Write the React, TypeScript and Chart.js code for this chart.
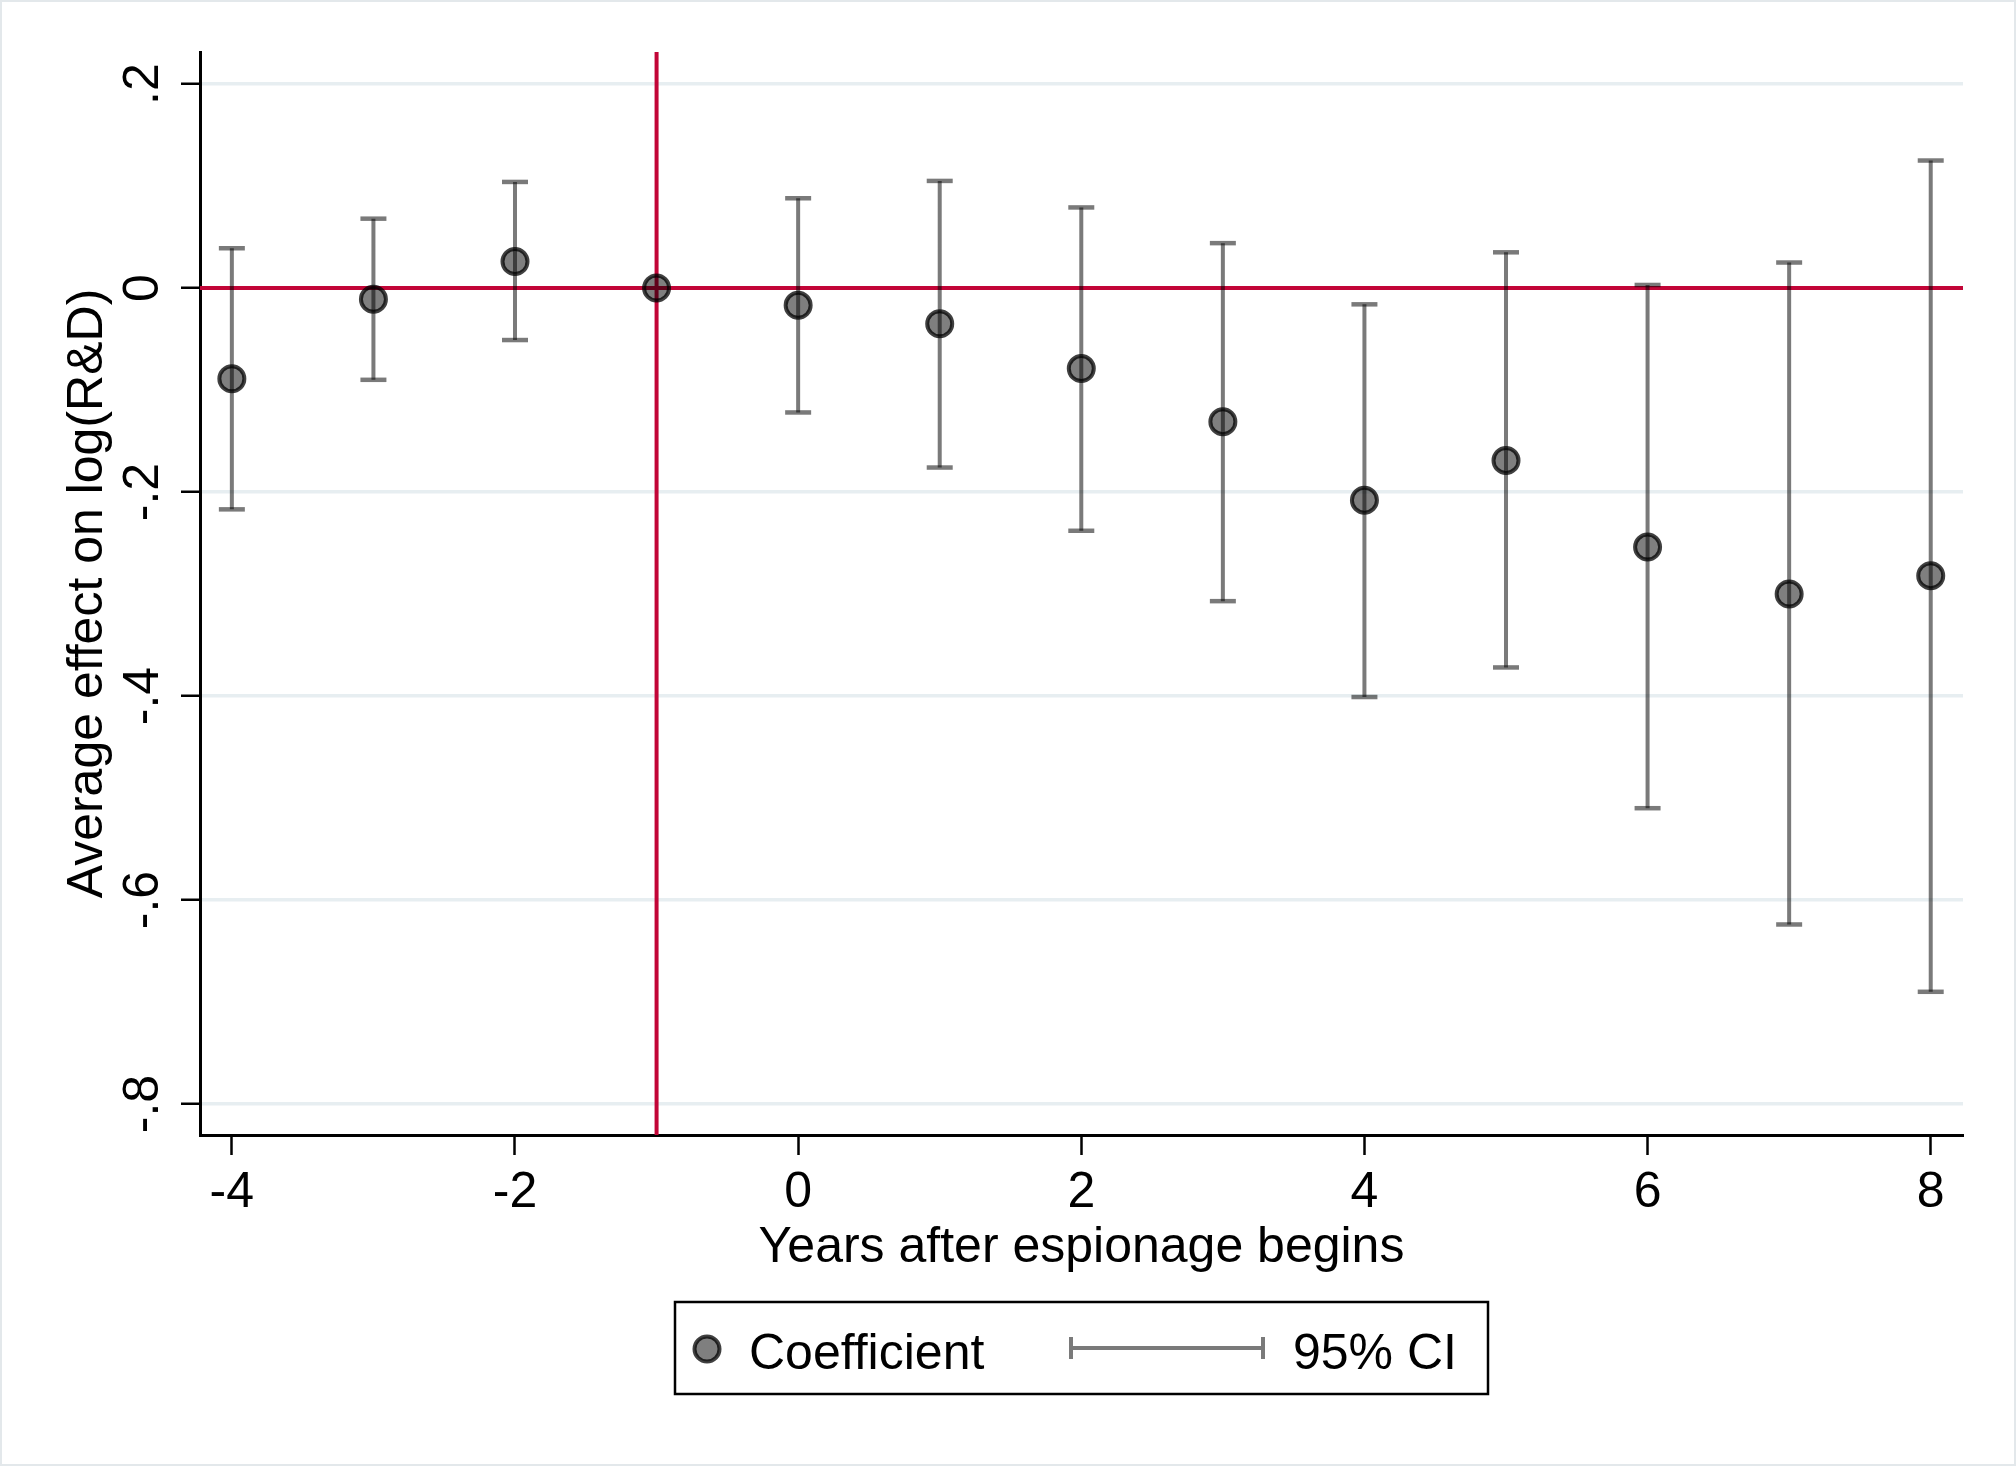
import React, { useEffect, useRef } from "react";
import { Chart, registerables } from "chart.js";

Chart.register(...registerables);

const years = [-4, -3, -2, -1, 0, 1, 2, 3, 4, 5, 6, 7, 8];
const coefficient = [-0.089, -0.011, 0.026, 0, -0.017, -0.035, -0.079, -0.131, -0.208, -0.169, -0.254, -0.3, -0.282];
const ciLow = [-0.217, -0.09, -0.051, null, -0.122, -0.176, -0.238, -0.307, -0.401, -0.372, -0.51, -0.624, -0.69];
const ciHigh = [0.039, 0.068, 0.104, null, 0.088, 0.105, 0.079, 0.044, -0.016, 0.035, 0.003, 0.025, 0.125];

const xTicks = [-4, -2, 0, 2, 4, 6, 8];
const xTickLabels = ["-4", "-2", "0", "2", "4", "6", "8"];
const yTicks = [0.2, 0, -0.2, -0.4, -0.6, -0.8];
const yTickLabels = [".2", "0", "-.2", "-.4", "-.6", "-.8"];

const xTitle = "Years after espionage begins";
const yTitle = "Average effect on log(R&D)";
const legendLabels = ["Coefficient", "95% CI"];

const referenceX = -1;
const referenceY = 0;

const FONT = '50px "Liberation Sans", Arial, Helvetica, sans-serif';
const RED = "#c20537";
const MARKER_FILL = "rgba(0,0,0,0.5)";
const MARKER_BORDER = "rgba(0,0,0,0.75)";
const CI_COLOR = "rgba(0,0,0,0.52)";

export default function App() {
  const ref = useRef<HTMLCanvasElement | null>(null);

  useEffect(() => {
    document.body.style.margin = "0";
    const canvas = ref.current;
    if (!canvas) return;

    const ciLineData: any[] = [];
    const capData: any[] = [];
    years.forEach((x, i) => {
      if (ciLow[i] === null || ciHigh[i] === null) return;
      ciLineData.push({ x, y: ciLow[i] });
      ciLineData.push({ x, y: ciHigh[i] });
      ciLineData.push({ x, y: null });
      capData.push({ x, y: ciLow[i] });
      capData.push({ x, y: ciHigh[i] });
    });
    const pointData = years.map((x, i) => ({ x, y: coefficient[i] }));

    const decor = {
      id: "decor",
      beforeDatasetsDraw(chart: any) {
        const { ctx, chartArea, scales } = chart;
        const xs = scales.x;
        const ys = scales.y;
        ctx.save();
        ctx.strokeStyle = RED;
        ctx.lineWidth = 4;
        const py = ys.getPixelForValue(referenceY);
        ctx.beginPath();
        ctx.moveTo(chartArea.left, py);
        ctx.lineTo(chartArea.right, py);
        ctx.stroke();
        const px = xs.getPixelForValue(referenceX);
        ctx.beginPath();
        ctx.moveTo(px, chartArea.top);
        ctx.lineTo(px, chartArea.bottom);
        ctx.stroke();
        ctx.restore();
      },
      afterDraw(chart: any) {
        const { ctx, chartArea, scales } = chart;
        const xs = scales.x;
        const ys = scales.y;
        ctx.save();
        ctx.fillStyle = "#000";
        ctx.font = FONT;
        ctx.textBaseline = "alphabetic";

        // x tick labels
        ctx.textAlign = "center";
        xTicks.forEach((v, i) => {
          ctx.fillText(xTickLabels[i], xs.getPixelForValue(v), 1207);
        });

        // y tick labels (rotated)
        yTicks.forEach((v, i) => {
          ctx.save();
          ctx.translate(158, ys.getPixelForValue(v));
          ctx.rotate(-Math.PI / 2);
          ctx.textAlign = "center";
          ctx.fillText(yTickLabels[i], 0, 0);
          ctx.restore();
        });

        // x title
        ctx.textAlign = "center";
        ctx.fillText(xTitle, (chartArea.left + chartArea.right) / 2, 1262);

        // y title
        ctx.save();
        ctx.translate(102, (chartArea.top + chartArea.bottom) / 2);
        ctx.rotate(-Math.PI / 2);
        ctx.textAlign = "center";
        ctx.fillText(yTitle, 0, 0);
        ctx.restore();

        // legend
        ctx.lineWidth = 2.5;
        ctx.strokeStyle = "#000";
        ctx.strokeRect(675, 1302, 813, 92);
        ctx.beginPath();
        ctx.arc(707, 1349, 12.5, 0, Math.PI * 2);
        ctx.fillStyle = MARKER_FILL;
        ctx.fill();
        ctx.lineWidth = 4;
        ctx.strokeStyle = MARKER_BORDER;
        ctx.stroke();
        ctx.fillStyle = "#000";
        ctx.textAlign = "left";
        ctx.fillText(legendLabels[0], 749, 1369);
        ctx.strokeStyle = CI_COLOR;
        ctx.lineWidth = 4;
        ctx.beginPath();
        ctx.moveTo(1071, 1348);
        ctx.lineTo(1263, 1348);
        ctx.moveTo(1071, 1337);
        ctx.lineTo(1071, 1359);
        ctx.moveTo(1263, 1337);
        ctx.lineTo(1263, 1359);
        ctx.stroke();
        ctx.fillText(legendLabels[1], 1293, 1369);

        // outer frame
        ctx.strokeStyle = "#e3e8eb";
        ctx.lineWidth = 2;
        ctx.strokeRect(1, 1, chart.width - 2, chart.height - 2);
        ctx.restore();
      },
    };

    const chart = new Chart(canvas, {
      type: "scatter",
      data: {
        datasets: [
          {
            label: "Coefficient",
            data: pointData,
            pointRadius: 12.5,
            pointBorderWidth: 4,
            pointBackgroundColor: MARKER_FILL,
            pointBorderColor: MARKER_BORDER,
            backgroundColor: MARKER_FILL,
            borderColor: MARKER_BORDER,
            showLine: false,
          },
          {
            label: "caps",
            data: capData,
            pointStyle: "line",
            pointRadius: 13,
            pointBorderWidth: 4.5,
            pointBorderColor: CI_COLOR,
            borderColor: CI_COLOR,
            showLine: false,
          },
          {
            label: "95% CI",
            data: ciLineData,
            showLine: true,
            spanGaps: false,
            pointRadius: 0,
            borderWidth: 4,
            borderColor: CI_COLOR,
            backgroundColor: CI_COLOR,
          },
        ],
      } as any,
      options: {
        animation: false,
        responsive: false,
        devicePixelRatio: 1,
        events: [],
        layout: { padding: { left: 0, top: 52, right: 53, bottom: 0 } },
        plugins: { legend: { display: false }, tooltip: { enabled: false } },
        scales: {
          x: {
            type: "linear",
            min: -4.225,
            max: 8.228,
            afterBuildTicks: (s: any) => {
              s.ticks = xTicks.map((v) => ({ value: v }));
            },
            afterFit: (s: any) => {
              s.height = 1466 - 1135;
            },
            ticks: { display: false },
            grid: {
              drawOnChartArea: false,
              drawTicks: true,
              tickLength: 20,
              tickColor: "#000",
              tickWidth: 2.5,
            },
            border: { display: true, color: "#000", width: 3 },
          },
          y: {
            type: "linear",
            min: -0.8304,
            max: 0.2314,
            afterBuildTicks: (s: any) => {
              s.ticks = yTicks.map((v) => ({ value: v }));
            },
            afterFit: (s: any) => {
              s.width = 200;
            },
            ticks: { display: false },
            grid: {
              color: "#e7eef1",
              lineWidth: 3.5,
              drawTicks: true,
              tickLength: 19,
              tickColor: "#000",
              tickWidth: 2.5,
            },
            border: { display: true, color: "#000", width: 3 },
          },
        },
      } as any,
      plugins: [decor],
    });

    return () => chart.destroy();
  }, []);

  return (
    <div style={{ width: 2016, height: 1466, background: "#fff" }}>
      <canvas ref={ref} width={2016} height={1466} style={{ display: "block", width: 2016, height: 1466 }} />
    </div>
  );
}
